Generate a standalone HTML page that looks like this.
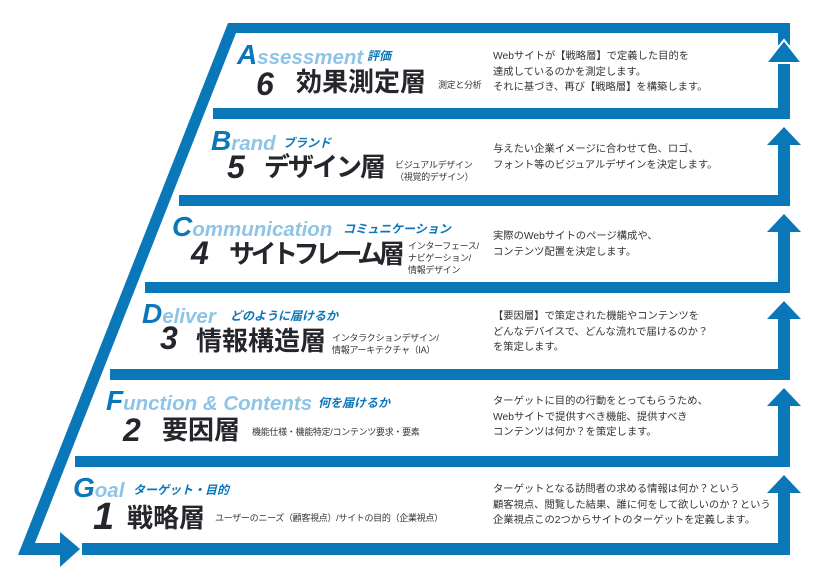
<!DOCTYPE html>
<html><head><meta charset="utf-8"><style>
html,body{margin:0;padding:0;background:#fff;}
body{width:813px;height:578px;position:relative;overflow:hidden;font-family:"Liberation Sans","Noto Sans CJK JP",sans-serif;}
.a{position:absolute;white-space:nowrap;line-height:1;}
.en{font-weight:bold;font-style:italic;color:#8ec4e8;font-size:20.5px;}
.en b{color:#0b77b8;font-size:28px;}
.jp{font-weight:bold;font-style:italic;color:#0b77b8;font-size:12px;}
.num{font-weight:bold;font-style:italic;color:#24262b;font-size:32px;}
.ttl{font-weight:bold;color:#24262b;font-size:26px;font-family:"Noto Sans CJK JP","Liberation Sans",sans-serif;}
.sub{color:#333;font-size:9px;line-height:12px;letter-spacing:-0.3px;}
.d{color:#333;font-size:10.3px;line-height:15.5px;}
</style></head><body>
<svg width="813" height="578" style="position:absolute;left:0;top:0">
<g fill="#0a77b8">
<polygon points="228,23 790,23 790,45 778,45 778,33 236,33 35,543 60,543 60,555 18,555"/>
<polygon points="60,532 80,549 60,567"/>
<rect x="82" y="543" width="708" height="12"/>
<rect x="213" y="108" width="577" height="11"/>
<rect x="179" y="195" width="611" height="11"/>
<rect x="145" y="282" width="645" height="11"/>
<rect x="110" y="369" width="680" height="11"/>
<rect x="75" y="456" width="715" height="11"/>
<rect x="778" y="63" width="12" height="46"/>
<polygon points="784,40 802,63 766,63" stroke="#fff" stroke-width="2"/>
<rect x="778" y="145" width="12" height="51"/>
<polygon points="784,127 801,145 767,145"/>
<rect x="778" y="232" width="12" height="51"/>
<polygon points="784,214 801,232 767,232"/>
<rect x="778" y="319" width="12" height="51"/>
<polygon points="784,301 801,319 767,319"/>
<rect x="778" y="406" width="12" height="51"/>
<polygon points="784,388 801,406 767,406"/>
<rect x="778" y="493" width="12" height="62"/>
<polygon points="784,475 801,493 767,493"/>
</g>
</svg>

<div class="a en" style="left:237px;top:41px"><b>A</b>ssessment</div>
<div class="a jp" style="left:367px;top:50px">評価</div>
<div class="a num" style="left:256px;top:68px">6</div>
<div class="a ttl" style="left:296px;top:68px">効果測定層</div>
<div class="a sub" style="left:438px;top:79px">測定と分析</div>
<div class="a d" style="left:493px;top:49px">Webサイトが【戦略層】で定義した目的を<br>達成しているのかを測定します。<br>それに基づき、再び【戦略層】を構築します。</div>

<div class="a en" style="left:211px;top:127px"><b>B</b>rand</div>
<div class="a jp" style="left:283px;top:137px">ブランド</div>
<div class="a num" style="left:227px;top:151px">5</div>
<div class="a ttl" style="left:264px;top:153px;letter-spacing:-2px">デザイン層</div>
<div class="a sub" style="left:395px;top:159px">ビジュアルデザイン<br>（視覚的デザイン）</div>
<div class="a d" style="left:493px;top:142px">与えたい企業イメージに合わせて色、ロゴ、<br>フォント等のビジュアルデザインを決定します。</div>

<div class="a en" style="left:172px;top:213px"><b>C</b>ommunication</div>
<div class="a jp" style="left:343px;top:223px">コミュニケーション</div>
<div class="a num" style="left:191px;top:237px">4</div>
<div class="a ttl" style="left:229px;top:240px;letter-spacing:-4.5px">サイトフレーム層</div>
<div class="a sub" style="left:408px;top:240px">インターフェース/<br>ナビゲーション/<br>情報デザイン</div>
<div class="a d" style="left:493px;top:229px">実際のWebサイトのページ構成や、<br>コンテンツ配置を決定します。</div>

<div class="a en" style="left:142px;top:300px"><b>D</b>eliver</div>
<div class="a jp" style="left:230px;top:310px">どのように届けるか</div>
<div class="a num" style="left:160px;top:322px">3</div>
<div class="a ttl" style="left:196px;top:327px">情報構造層</div>
<div class="a sub" style="left:332px;top:332px">インタラクションデザイン/<br>情報アーキテクチャ（IA）</div>
<div class="a d" style="left:493px;top:309px">【要因層】で策定された機能やコンテンツを<br>どんなデバイスで、どんな流れで届けるのか？<br>を策定します。</div>

<div class="a en" style="left:106px;top:387px"><b>F</b>unction &amp; Contents</div>
<div class="a jp" style="left:318px;top:397px">何を届けるか</div>
<div class="a num" style="left:123px;top:414px">2</div>
<div class="a ttl" style="left:162px;top:416px">要因層</div>
<div class="a sub" style="left:252px;top:426px">機能仕様・機能特定/コンテンツ要求・要素</div>
<div class="a d" style="left:493px;top:394px">ターゲットに目的の行動をとってもらうため、<br>Webサイトで提供すべき機能、提供すべき<br>コンテンツは何か？を策定します。</div>

<div class="a en" style="left:73px;top:474px"><b>G</b>oal</div>
<div class="a jp" style="left:133px;top:484px">ターゲット・目的</div>
<div class="a num" style="left:93px;top:498px;font-size:38px">1</div>
<div class="a ttl" style="left:127px;top:504px">戦略層</div>
<div class="a sub" style="left:215px;top:512px">ユーザーのニーズ（顧客視点）/サイトの目的（企業視点）</div>
<div class="a d" style="left:493px;top:482px">ターゲットとなる訪問者の求める情報は何か？という<br>顧客視点、閲覧した結果、誰に何をして欲しいのか？という<br>企業視点この2つからサイトのターゲットを定義します。</div>
</body></html>
